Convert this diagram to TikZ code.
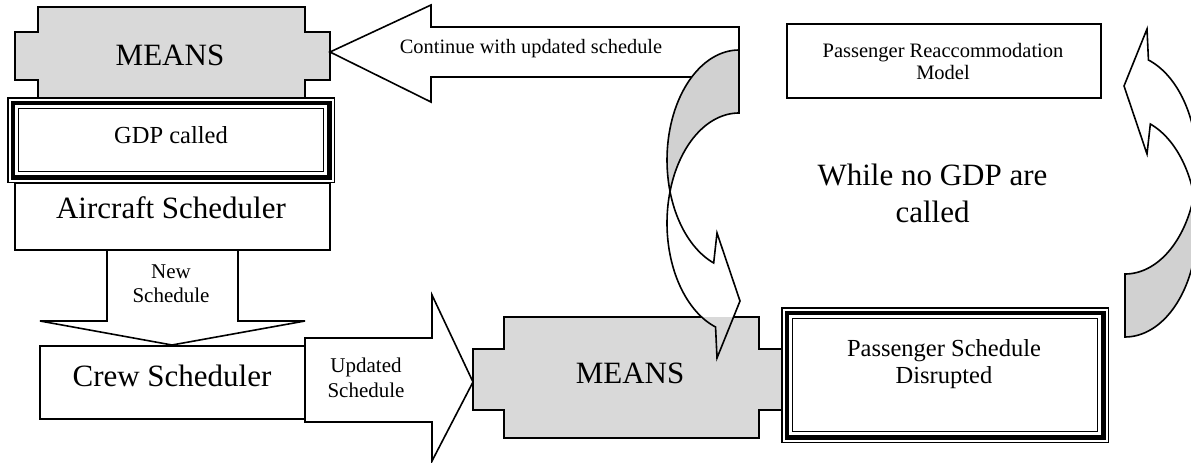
\documentclass[tikz,border=0pt]{standalone}
\usepackage{fontspec}
\setmainfont{Liberation Serif}
\definecolor{meansgray}{gray}{0.85}
\definecolor{backgray}{gray}{0.82}
% outline of the lower MEANS block
\newcommand\meanslower{(504,317) -- (759,317) -- (759,349) -- (782,349) -- (782,410) -- (759,410) -- (759,438) -- (504,438) -- (504,410) -- (473,410) -- (473,349) -- (504,349) -- cycle}
% curved arrow: shaded back of the ribbon (two equal ellipses, offset vertically)
\newcommand\backface{plot[domain=270:163.4,samples=40] ({739+72*cos(\x)},{160+110*sin(\x)}) -- plot[domain=196.6:270,samples=40] ({739+72*cos(\x)},{223+110*sin(\x)}) -- cycle}
% curved arrow: front of the ribbon with its head
\newcommand\frontface{plot[domain=163.4:110.6,samples=40] ({739+72*cos(\x)},{160+110*sin(\x)}) -- (717,233) -- (740,301) -- (717,358) -- plot[domain=109:196.6,samples=50] ({739+72*cos(\x)},{223+110*sin(\x)}) -- cycle}
\begin{document}
\begin{tikzpicture}[x=1pt,y=-1pt,
  shape line/.style={draw=black,line width=1.6pt,line join=miter},
  big text/.style={inner sep=0pt,font=\fontsize{31}{37}\selectfont,align=center},
  mid text/.style={inner sep=0pt,font=\fontsize{24.5}{26.5}\selectfont,align=center},
  small text/.style={inner sep=0pt,font=\fontsize{21}{24.5}\selectfont,align=center}]
\useasboundingbox (0,0) rectangle (1191,463);
\clip (0,0) rectangle (1191,463);

% upper MEANS block
\filldraw[shape line, fill=meansgray] (38,7) -- (305,7) -- (305,32) -- (330,32) -- (330,80) -- (305,80) -- (305,100) -- (38,100) -- (38,80) -- (15,80) -- (15,32) -- (38,32) -- cycle;

% Aircraft Scheduler box
\filldraw[shape line, fill=white] (15,183) rectangle (330,250);

% GDP called box with triple frame
\fill[white] (7,97) rectangle (335,183);
\draw[line width=1.5pt] (7.75,97.75) rectangle (334.25,182.25);
\draw[line width=4.5pt] (12.75,102.75) rectangle (329.25,177.25);
\draw[line width=1.5pt] (18.5,108.5) rectangle (323.5,171.5);

% New Schedule block arrow
\filldraw[shape line, fill=white] (107,250) -- (238,250) -- (238,321) -- (305,321) -- (172,345) -- (40,321) -- (107,321) -- cycle;

% Crew Scheduler box
\filldraw[shape line, fill=white] (40,346) rectangle (305,419);

% Updated Schedule block arrow
\filldraw[shape line, fill=white] (305,338) -- (432,338) -- (432,295) -- (473,382) -- (432,461) -- (432,422) -- (305,422) -- cycle;

% lower MEANS block
\filldraw[shape line, fill=meansgray] \meanslower;

% Passenger Schedule Disrupted box with triple frame
\fill[white] (781,307) rectangle (1109,443);
\draw[line width=1.5pt] (781.75,307.75) rectangle (1108.25,442.25);
\draw[line width=4.5pt] (786.75,312.75) rectangle (1103.25,437.25);
\draw[line width=1.5pt] (792.5,318.5) rectangle (1097.5,431.5);

% Continue block arrow
\filldraw[shape line, fill=white] (330,52) -- (431,5) -- (431,27) -- (739,27) -- (739,77) -- (431,77) -- (431,102) -- cycle;

% curved arrow down into the lower MEANS block
\filldraw[shape line, fill=backgray] \backface;
\fill[white] \frontface;
\begin{scope}
  \clip \frontface;
  \fill[meansgray] \meanslower;
\end{scope}
\draw[shape line] \frontface;

% curved arrow back up on the right
\begin{scope}[rotate around={180:(932,193.5)}]
  \filldraw[shape line, fill=backgray] \backface;
  \filldraw[shape line, fill=white] \frontface;
\end{scope}

% Passenger Reaccommodation Model box
\draw[shape line] (787,24) rectangle (1101,98);

% labels
\node[big text, anchor=base] (meansTop) at (170,65.7) {MEANS};
\node[mid text, anchor=base] (gdp) at (171,143.5) {GDP called};
\node[big text, anchor=base] (aircraft) at (171,218) {Aircraft Scheduler};
\node[small text] (newSched) at (171,283.5) {New\\Schedule};
\node[big text, anchor=base] (crew) at (172,386.7) {Crew Scheduler};
\node[small text] (updSched) at (366,378) {Updated\\Schedule};
\node[big text, anchor=base] (meansBot) at (630,383) {MEANS};
\node[mid text] (psd) at (944,364) {Passenger Schedule\\Disrupted};
\node[inner sep=0pt, font=\fontsize{20.5}{22}\selectfont, align=center] (prm) at (943,61) {Passenger Reaccommodation\\Model};
\node[big text] (loop) at (932.5,193) {While no GDP are\\called};
\node[inner sep=0pt, font=\fontsize{20.4}{24}\selectfont, anchor=base] (cont) at (531,53) {Continue with updated schedule};
\end{tikzpicture}
\end{document}
